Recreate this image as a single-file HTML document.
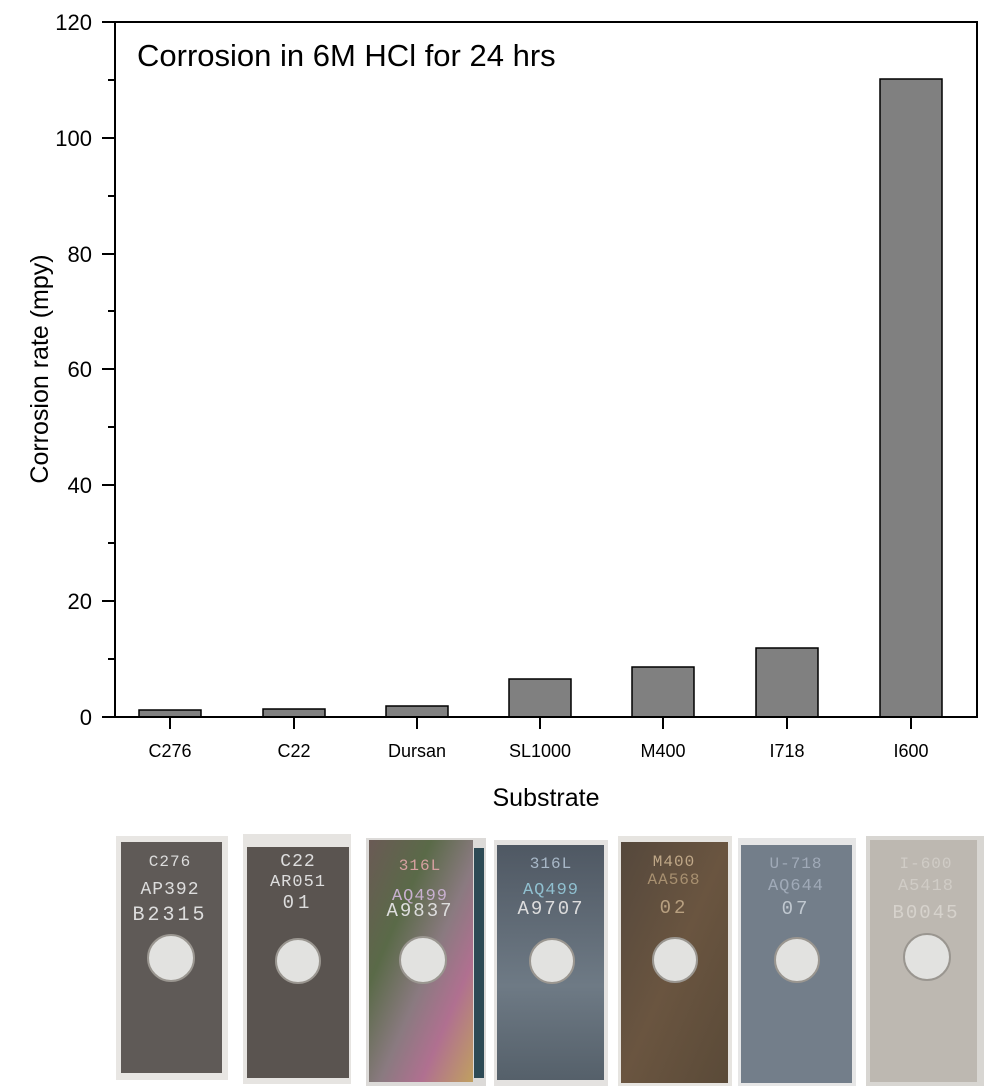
<!DOCTYPE html>
<html><head><meta charset="utf-8"><style>body{margin:0;background:#fff}svg{display:block}</style></head><body>
<svg width="995" height="1088" viewBox="0 0 995 1088" xmlns="http://www.w3.org/2000/svg" font-family="Liberation Sans, Arial, sans-serif">
<defs>
<linearGradient id="irid" x1="0" y1="0" x2="1" y2="1">
<stop offset="0" stop-color="#6a5a55"/><stop offset="0.3" stop-color="#5a6a48"/><stop offset="0.55" stop-color="#8a7a80"/><stop offset="0.75" stop-color="#b07090"/><stop offset="1" stop-color="#c0a060"/></linearGradient>
<linearGradient id="blu" x1="0" y1="0" x2="0" y2="1"><stop offset="0" stop-color="#4f5863"/><stop offset="0.6" stop-color="#6e7a85"/><stop offset="1" stop-color="#55606a"/></linearGradient>
<linearGradient id="brn" x1="0" y1="0" x2="1" y2="1"><stop offset="0" stop-color="#55483c"/><stop offset="0.5" stop-color="#6a5540"/><stop offset="1" stop-color="#5a4a38"/></linearGradient>
</defs>
<rect width="995" height="1088" fill="#fff"/>
<g fill="#808080" stroke="#000" stroke-width="1.5">
<rect x="139" y="710" width="62" height="7"/>
<rect x="263" y="709" width="62" height="8"/>
<rect x="386" y="706" width="62" height="11"/>
<rect x="509" y="679" width="62" height="38"/>
<rect x="632" y="667" width="62" height="50"/>
<rect x="756" y="648" width="62" height="69"/>
<rect x="880" y="79" width="62" height="638"/>
</g>
<rect x="115" y="22" width="862" height="695" fill="none" stroke="#000" stroke-width="2"/>
<g stroke="#000" stroke-width="2">
<line x1="102" y1="22" x2="115" y2="22"/><line x1="102" y1="138" x2="115" y2="138"/><line x1="102" y1="254" x2="115" y2="254"/><line x1="102" y1="369" x2="115" y2="369"/><line x1="102" y1="485" x2="115" y2="485"/><line x1="102" y1="601" x2="115" y2="601"/><line x1="102" y1="717" x2="115" y2="717"/>
<line x1="108" y1="80" x2="115" y2="80"/><line x1="108" y1="196" x2="115" y2="196"/><line x1="108" y1="311" x2="115" y2="311"/><line x1="108" y1="427" x2="115" y2="427"/><line x1="108" y1="543" x2="115" y2="543"/><line x1="108" y1="659" x2="115" y2="659"/>
<line x1="170" y1="717" x2="170" y2="729"/><line x1="294" y1="717" x2="294" y2="729"/><line x1="417" y1="717" x2="417" y2="729"/><line x1="540" y1="717" x2="540" y2="729"/><line x1="663" y1="717" x2="663" y2="729"/><line x1="787" y1="717" x2="787" y2="729"/><line x1="911" y1="717" x2="911" y2="729"/>
</g>
<g font-size="22" text-anchor="end" fill="#000">
<text x="92" y="30">120</text><text x="92" y="146">100</text><text x="92" y="262">80</text><text x="92" y="377">60</text><text x="92" y="493">40</text><text x="92" y="609">20</text><text x="92" y="725">0</text>
</g>
<g font-size="18" text-anchor="middle" fill="#000">
<text x="170" y="757">C276</text><text x="294" y="757">C22</text><text x="417" y="757">Dursan</text><text x="540" y="757">SL1000</text><text x="663" y="757">M400</text><text x="787" y="757">I718</text><text x="911" y="757">I600</text>
</g>
<text x="546" y="806" font-size="25" text-anchor="middle">Substrate</text>
<text transform="translate(48,369) rotate(-90)" font-size="25" text-anchor="middle">Corrosion rate (mpy)</text>
<text x="137" y="66" font-size="31">Corrosion in 6M HCl for 24 hrs</text>
<g>
<rect x="116" y="836" width="112" height="244" fill="#e8e6e3"/>
<rect x="121" y="842" width="101" height="231" fill="#5f5a57"/>
<rect x="243" y="834" width="108" height="250" fill="#e6e4e1"/>
<rect x="247" y="847" width="102" height="231" fill="#5a5450"/>
<rect x="366" y="838" width="120" height="248" fill="#dcdad8"/>
<rect x="369" y="840" width="104" height="242" fill="url(#irid)"/>
<rect x="474" y="848" width="10" height="230" fill="#2d4a55"/>
<rect x="494" y="840" width="114" height="246" fill="#e4e2e0"/>
<rect x="497" y="845" width="107" height="235" fill="url(#blu)"/>
<rect x="618" y="836" width="114" height="250" fill="#e6e4e0"/>
<rect x="621" y="842" width="107" height="241" fill="url(#brn)"/>
<rect x="738" y="838" width="118" height="248" fill="#e6e6e6"/>
<rect x="741" y="845" width="111" height="238" fill="#737e8a"/>
<rect x="866" y="836" width="118" height="250" fill="#d8d6d2"/>
<rect x="870" y="840" width="107" height="242" fill="#bdb8b1"/>
</g>
<g fill="#e2e2e0" stroke="#9a9690" stroke-width="2">
<circle cx="171" cy="958" r="23"/><circle cx="298" cy="961" r="22"/><circle cx="423" cy="960" r="23"/><circle cx="552" cy="961" r="22"/><circle cx="675" cy="960" r="22"/><circle cx="797" cy="960" r="22"/><circle cx="927" cy="957" r="23"/>
</g>
<g font-family="Liberation Mono, monospace" font-size="16" text-anchor="middle" fill="#ddd" letter-spacing="1">
<text x="170" y="866">C276</text><text x="170" y="894" font-size="18">AP392</text><text x="170" y="920" font-size="20" letter-spacing="3">B2315</text>
<text x="298" y="866" font-size="18">C22</text><text x="298" y="886" font-size="17">AR051</text><text x="298" y="908" font-size="19" letter-spacing="4">01</text>
<text x="420" y="870" fill="#d6a0a0">316L</text><text x="420" y="900" fill="#c8b0d0" font-size="17">AQ499</text><text x="420" y="916" font-size="19" letter-spacing="2">A9837</text>
<text x="551" y="868" fill="#a8b8c8">316L</text><text x="551" y="894" fill="#90c0d0" font-size="17">AQ499</text><text x="551" y="914" font-size="19" letter-spacing="2">A9707</text>
<text x="674" y="866" fill="#c0a888">M400</text><text x="674" y="884" fill="#a89070">AA568</text><text x="674" y="913" fill="#b8a080" font-size="19" letter-spacing="3">02</text>
<text x="796" y="868" fill="#a0aab8">U-718</text><text x="796" y="890" fill="#a0aab8" font-size="17">AQ644</text><text x="796" y="914" font-size="19" letter-spacing="3" fill="#c0c8d0">07</text>
<text x="926" y="868" fill="#d0ccc6">I-600</text><text x="926" y="890" fill="#d0ccc6" font-size="17">A5418</text><text x="926" y="918" font-size="19" letter-spacing="2" fill="#d6d2cc">B0045</text>
</g>
</svg>
</body></html>
